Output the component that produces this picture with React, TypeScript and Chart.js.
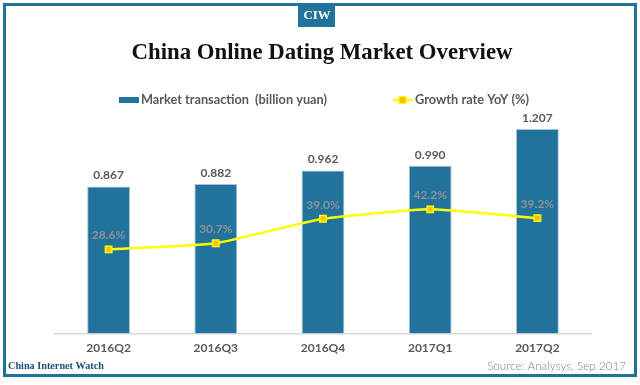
import React, { useEffect, useRef } from "react";
import { Chart, registerables } from "chart.js";

Chart.register(...registerables);

const categories = ["2016Q2", "2016Q3", "2016Q4", "2017Q1", "2017Q2"];
const marketTransaction = [0.867, 0.882, 0.962, 0.99, 1.207];
const growthRate = [28.6, 30.7, 39.0, 42.2, 39.2];
const barLabels = ["0.867", "0.882", "0.962", "0.990", "1.207"];
const growthLabels = ["28.6%", "30.7%", "39.0%", "42.2%", "39.2%"];

const titleText = "China Online Dating Market Overview";
const legendBar = "Market transaction  (billion yuan)";
const legendLine = "Growth rate YoY (%)";
const badgeText = "CIW";
const footerLeft = "China Internet Watch";
const footerRight = "Source: Analysys, Sep 2017";

const BLUE = "#21739b";
const SANS = "Lato, 'Open Sans', sans-serif";
const SERIF = "'Liberation Serif', 'DejaVu Serif', serif";

function fitFont(ctx: CanvasRenderingContext2D, text: string, weight: string, family: string, target: number) {
  ctx.font = `${weight} 100px ${family}`;
  const w = ctx.measureText(text).width;
  const size = (100 * target) / w;
  return `${weight} ${size.toFixed(2)}px ${family}`;
}

const decorPlugin = {
  id: "decor",
  beforeDraw(chart: any) {
    const ctx: CanvasRenderingContext2D = chart.ctx;
    ctx.save();
    ctx.fillStyle = "#ffffff";
    ctx.fillRect(0, 0, chart.width, chart.height);
    // frame
    ctx.strokeStyle = BLUE;
    ctx.lineWidth = 3;
    ctx.strokeRect(4.5, 4.5, 631, 371);
    // badge
    ctx.fillStyle = BLUE;
    ctx.fillRect(298, 3, 37, 24);
    ctx.fillStyle = "#ffffff";
    ctx.textAlign = "center";
    ctx.textBaseline = "middle";
    ctx.font = fitFont(ctx, badgeText, "bold", SERIF, 27);
    ctx.fillText(badgeText, 317, 16);
    // title
    ctx.fillStyle = "#111111";
    ctx.font = fitFont(ctx, titleText, "bold", SERIF, 381);
    ctx.fillText(titleText, 322, 53);
    // legend
    ctx.fillStyle = BLUE;
    ctx.fillRect(119, 97, 20, 6);
    ctx.fillStyle = "#595959";
    ctx.textAlign = "left";
    ctx.font = fitFont(ctx, legendBar, "bold", SANS, 186);
    ctx.fillText(legendBar, 141, 100);
    ctx.strokeStyle = "#ffff00";
    ctx.lineWidth = 2.5;
    ctx.beginPath();
    ctx.moveTo(393, 100);
    ctx.lineTo(413, 100);
    ctx.stroke();
    ctx.fillStyle = "#ffc000";
    ctx.fillRect(399, 96.5, 7, 7);
    ctx.strokeStyle = "#ffff00";
    ctx.lineWidth = 1;
    ctx.strokeRect(399, 96.5, 7, 7);
    ctx.fillStyle = "#595959";
    ctx.font = fitFont(ctx, legendLine, "bold", SANS, 114);
    ctx.fillText(legendLine, 415, 100);
    // footer
    ctx.fillStyle = "#1f4e79";
    ctx.font = fitFont(ctx, footerLeft, "bold", SERIF, 96);
    ctx.fillText(footerLeft, 8, 366);
    ctx.fillStyle = "#7f7f7f";
    ctx.textAlign = "right";
    ctx.font = fitFont(ctx, footerRight, "300", SANS, 139);
    ctx.fillText(footerRight, 626, 366);
    ctx.restore();
  },
  afterDatasetsDraw(chart: any) {
    const ctx: CanvasRenderingContext2D = chart.ctx;
    ctx.save();
    ctx.textAlign = "center";
    ctx.textBaseline = "middle";
    const barMeta = chart.getDatasetMeta(1);
    ctx.fillStyle = "#595959";
    ctx.font = `bold 12px ${SANS}`;
    barMeta.data.forEach((el: any, i: number) => {
      ctx.fillText(barLabels[i], el.x, el.y - 11);
    });
    const lineMeta = chart.getDatasetMeta(0);
    ctx.fillStyle = "#8e9296";
    ctx.font = `bold 12px ${SANS}`;
    lineMeta.data.forEach((el: any, i: number) => {
      ctx.fillText(growthLabels[i], el.x, el.y - 14);
    });
    ctx.restore();
  },
};

export default function App() {
  const ref = useRef<HTMLCanvasElement | null>(null);
  useEffect(() => {
    if (!ref.current) return;
    const chart = new Chart(ref.current, {
      type: "bar",
      data: {
        labels: categories,
        datasets: [
          {
            type: "line",
            label: legendLine,
            data: growthRate,
            yAxisID: "y2",
            borderColor: "#ffff00",
            borderWidth: 2.5,
            tension: 0.15,
            pointStyle: "rect",
            pointRadius: 4.5,
            pointBackgroundColor: "#ffc000",
            pointBorderColor: "#ffff00",
            pointBorderWidth: 1.5,
            order: 0,
          } as any,
          {
            type: "bar",
            label: legendBar,
            data: marketTransaction,
            yAxisID: "y",
            backgroundColor: BLUE,
            borderColor: "#a9c3d4",
            borderWidth: 1,
            categoryPercentage: 1,
            barPercentage: 0.4,
            order: 1,
          },
        ],
      },
      options: {
        responsive: false,
        maintainAspectRatio: false,
        animation: false,
        devicePixelRatio: 1,
        layout: { padding: { left: 55, right: 49, top: 125, bottom: 23 } },
        plugins: {
          legend: { display: false },
          title: { display: false },
          tooltip: { enabled: false },
        },
        scales: {
          x: {
            grid: { display: false, drawTicks: false },
            border: { display: true, color: "#d9d9d9", width: 1.5 },
            ticks: {
              color: "#595959",
              font: { family: SANS, weight: "bold", size: 12 },
              padding: 7,
            },
          },
          y: { display: false, min: 0, max: 1.23 },
          y2: { display: false, min: 0, max: 70.85, position: "right" },
        },
      },
      plugins: [decorPlugin],
    });
    return () => chart.destroy();
  }, []);
  return (
    <div style={{ position: "fixed", left: 0, top: 0, width: 640, height: 385, background: "#fff" }}>
      <canvas ref={ref} width={640} height={385} />
    </div>
  );
}
